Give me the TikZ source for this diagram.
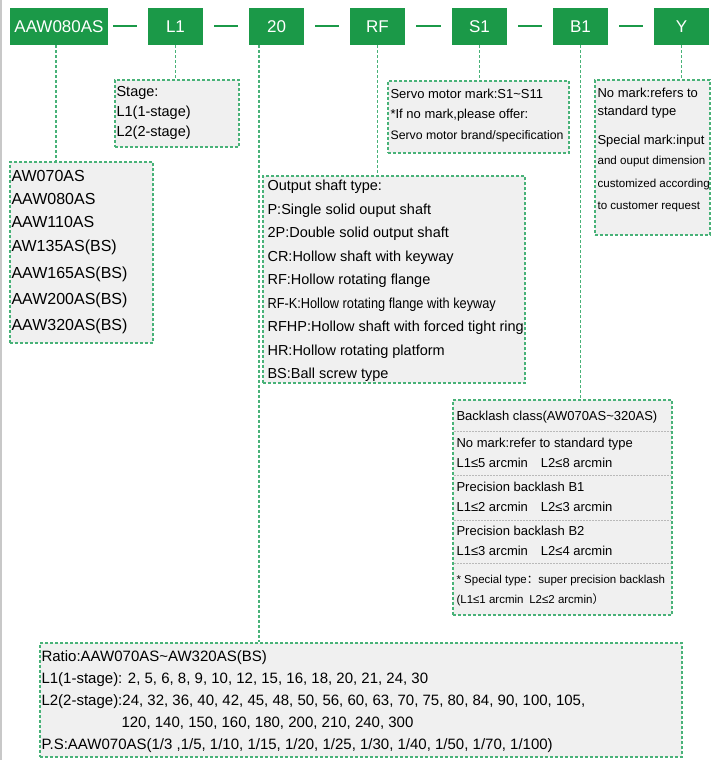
\documentclass[tikz,border=0pt]{standalone}
\usepackage{fontspec}
\setmainfont{Liberation Sans}
\newfontfamily\cjkfont{Noto Sans CJK SC}
\usepackage{graphicx}
\definecolor{codegreen}{RGB}{27,153,72}
\definecolor{dashgreen}{RGB}{72,178,120}
\definecolor{boxgray}{RGB}{240,240,240}
\definecolor{rulegray}{RGB}{185,185,185}
\definecolor{edgegray}{RGB}{200,200,200}
\tikzset{
  codebox/.style={shape=rectangle,fill=codegreen,text=white,minimum height=37pt,minimum width=55pt,inner sep=0pt,font=\fontsize{17}{20}\selectfont},
  infobox/.style={shape=rectangle,fill=boxgray,draw=dashgreen,line width=1.3pt,dash pattern=on 3pt off 2pt,inner sep=0pt},
  infotext/.style={anchor=north west,inner sep=0pt,align=left},
  link/.style={draw=dashgreen,line width=1.3pt,dash pattern=on 3pt off 2pt},
  joiner/.style={draw=codegreen,line width=2pt,shorten <=11pt,shorten >=11pt},
  splitline/.style={draw=rulegray,line width=0.8pt,dash pattern=on 2pt off 1pt,shorten <=2pt,shorten >=2pt}
}
\newcommand{\squeezed}[2][0.88]{\scalebox{#1}[1]{#2}}

\begin{document}
\begin{tikzpicture}[x=1pt,y=-1pt]
\useasboundingbox (0,0) rectangle (716,760);
\draw[edgegray,line width=1.5pt] (0.75,0) -- (0.75,760);

% code row
\path (59,26.5) node (aaw) [codebox,minimum width=98pt]{AAW080AS};
\path (175.5,26.5) node (stage) [codebox]{L1};
\path (276.5,26.5) node (ratio) [codebox]{20};
\path (377.5,26.5) node (shaft) [codebox]{RF};
\path (479.5,26.5) node (motor) [codebox]{S1};
\path (580.5,26.5) node (backlash) [codebox]{B1};
\path (681.5,26.5) node (special) [codebox]{Y};

\draw[joiner,shorten <=5pt] (aaw) -- (stage);
\draw[joiner] (stage) -- (ratio);
\draw[joiner] (ratio) -- (shaft);
\draw[joiner] (shaft) -- (motor);
\draw[joiner] (motor) -- (backlash);
\draw[joiner] (backlash) -- (special);

% boxes
\path (177,113.5) node (stagebox) [infobox,minimum width=124pt,minimum height=67pt]{};
\path (81.5,252.5) node (modelbox) [infobox,minimum width=143pt,minimum height=181pt]{};
\path (394,279.5) node (shaftbox) [infobox,minimum width=262pt,minimum height=207pt]{};
\path (478.5,117) node (motorbox) [infobox,minimum width=181pt,minimum height=72pt]{};
\path (652.5,157.5) node (specialbox) [infobox,minimum width=115pt,minimum height=155pt]{};
\path (562.5,507.5) node (backlashbox) [infobox,minimum width=219pt,minimum height=215pt]{};
\path (361,700) node (ratiobox) [infobox,minimum width=642pt,minimum height=114pt]{};

\foreach \cut in {431,475,520,563}
  \draw[splitline] (backlashbox.west |- 0,\cut) -- (backlashbox.east |- 0,\cut);

% dashed links
\coordinate (modeltap) at ([xshift=-3pt]aaw.south);
\coordinate (ratiotap) at ([xshift=-17.5pt]ratio.south);
\draw[link] (modeltap) -- (modeltap |- modelbox.north);
\draw[link] (stage.south) -- (stage.south |- stagebox.north);
\draw[link] (ratiotap) -- (ratiotap |- ratiobox.north);
\draw[link] (shaft.south) -- (shaft.south |- shaftbox.north);
\draw[link] (motor.south) -- (motor.south |- motorbox.north);
\draw[link] (backlash.south) -- (backlash.south |- backlashbox.north);
\draw[link] (special.south) -- (special.south |- specialbox.north);

% texts
\path ([xshift=2pt,yshift=-6.8pt]stagebox.north west) node (stagetext) [infotext,font=\fontsize{14.5}{20}\selectfont]{Stage:\\L1(1-stage)\\L2(2-stage)};

\path ([xshift=2pt,yshift=-9.2pt]modelbox.north west) node (modeltext) [infotext,font=\fontsize{16}{24.8}\selectfont]{AW070AS\\[-2pt]AAW080AS\\[-2pt]AAW110AS\\[-0.8pt]AW135AS(BS)\\[1.7pt]AAW165AS(BS)\\[1.3pt]AAW200AS(BS)\\[2pt]AAW320AS(BS)};

\path ([xshift=5pt,yshift=-4.8pt]shaftbox.north west) node (shafttext) [infotext,font=\fontsize{14.5}{23.5}\selectfont]{Output shaft type:\\P:Single solid ouput shaft\\2P:Double solid output shaft\\CR:Hollow shaft with keyway\\RF:Hollow rotating flange\\\squeezed{RF-K:Hollow rotating flange with keyway}\\RFHP:Hollow shaft with forced tight ring\\HR:Hollow rotating platform\\BS:Ball screw type};

\path ([xshift=3pt,yshift=-8.3pt]motorbox.north west) node (motortext) [infotext,font=\fontsize{13}{20.5}\selectfont]{Servo motor mark:S1\textasciitilde S11\\\relax*If no mark,please offer:\\{\fontsize{12.3}{20.5}\selectfont Servo motor brand/specification}};

\path ([xshift=3pt,yshift=-8.3pt]specialbox.north west) node (specialtext) [infotext,font=\fontsize{13}{18}\selectfont]{No mark:refers to\\standard type\\[11pt]Special mark:input\\[2pt]{\fontsize{11.6}{18}\selectfont and ouput dimension}\\[5pt]{\fontsize{11.6}{18}\selectfont customized according}\\[4pt]{\fontsize{11.6}{18}\selectfont to customer request}};

\path ([xshift=4pt,yshift=-11.3pt]backlashbox.north west) node (backlashtext) [infotext,font=\fontsize{13}{20}\selectfont]{Backlash class(AW070AS\textasciitilde 320AS)\\[7pt]No mark:refer to standard type\\L1≤5 arcmin\quad L2≤8 arcmin\\[4pt]Precision backlash B1\\L1≤2 arcmin\quad L2≤3 arcmin\\[4pt]Precision backlash B2\\L1≤3 arcmin\quad L2≤4 arcmin\\[8pt]{\fontsize{11.5}{20}\selectfont * Special type{\cjkfont ：}super precision backlash}\\{\fontsize{11.5}{20}\selectfont (L1≤1 arcmin\enskip L2≤2 arcmin{\cjkfont ）}}};

\path ([xshift=2pt,yshift=-7.6pt]ratiobox.north west) node (ratiotext) [infotext,font=\fontsize{15}{22}\selectfont]{Ratio:AAW070AS\textasciitilde AW320AS(BS)\\L1(1-stage): 2, 5, 6, 8, 9, 10, 12, 15, 16, 18, 20, 21, 24, 30\\L2(2-stage):24, 32, 36, 40, 42, 45, 48, 50, 56, 60, 63, 70, 75, 80, 84, 90, 100, 105,\\\hspace*{80pt}120, 140, 150, 160, 180, 200, 210, 240, 300\\P.S:AAW070AS(1/3 ,1/5, 1/10, 1/15, 1/20, 1/25, 1/30, 1/40, 1/50, 1/70, 1/100)};

\end{tikzpicture}
\end{document}
